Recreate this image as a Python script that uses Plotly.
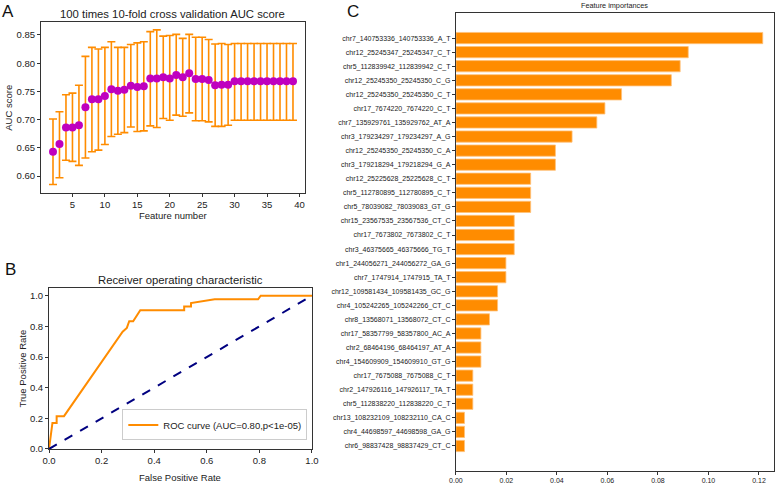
import plotly.graph_objects as go

# ---------------- Data ----------------
# Panel A: 100 times 10-fold CV AUC score
feature_numbers = list(range(2, 40))
auc_mean = [0.643, 0.657, 0.686, 0.686, 0.690, 0.722, 0.736, 0.736, 0.742, 0.754,
            0.751, 0.753, 0.760, 0.758, 0.759, 0.773, 0.773, 0.775, 0.773, 0.779,
            0.775, 0.782, 0.772, 0.772, 0.770, 0.761, 0.762, 0.762, 0.768, 0.768,
            0.768, 0.768, 0.768, 0.768, 0.768, 0.768, 0.768, 0.768]
auc_upper = [0.701, 0.714, 0.744, 0.747, 0.761, 0.812, 0.828, 0.825, 0.828, 0.838,
             0.828, 0.828, 0.833, 0.836, 0.838, 0.856, 0.859, 0.848, 0.849, 0.851,
             0.844, 0.851, 0.846, 0.846, 0.842, 0.834, 0.835, 0.833, 0.835, 0.835,
             0.835, 0.835, 0.835, 0.835, 0.835, 0.835, 0.835, 0.835]
auc_lower = [0.585, 0.597, 0.628, 0.626, 0.619, 0.632, 0.643, 0.646, 0.656, 0.670,
             0.674, 0.677, 0.687, 0.679, 0.680, 0.689, 0.686, 0.702, 0.699, 0.708,
             0.706, 0.712, 0.698, 0.698, 0.696, 0.688, 0.688, 0.690, 0.699, 0.699,
             0.699, 0.699, 0.699, 0.699, 0.699, 0.699, 0.699, 0.699]
a_xticks = [5, 10, 15, 20, 25, 30, 35, 40]
a_yticks = [0.60, 0.65, 0.70, 0.75, 0.80, 0.85]

# Panel B: ROC curve
fpr = [0.0, 0.005, 0.010, 0.013, 0.029, 0.029, 0.057, 0.280, 0.296, 0.305, 0.320,
       0.347, 0.514, 0.514, 0.540, 0.540, 0.630, 0.795, 0.805, 1.0]
tpr = [0.0, 0.060, 0.110, 0.170, 0.170, 0.214, 0.214, 0.765, 0.790, 0.833, 0.833,
       0.905, 0.905, 0.929, 0.929, 0.952, 0.976, 0.976, 1.0, 1.0]
diag = [0.0, 1.0]
b_ticks = [0.0, 0.2, 0.4, 0.6, 0.8, 1.0]
b_ticktext = ["0.0", "0.2", "0.4", "0.6", "0.8", "1.0"]

# Panel C: feature importances
features = [
    "chr7_140753336_140753336_A_T", "chr12_25245347_25245347_C_T",
    "chr5_112839942_112839942_C_T", "chr12_25245350_25245350_C_G",
    "chr12_25245350_25245350_C_T", "chr17_7674220_7674220_C_T",
    "chr7_135929761_135929762_AT_A", "chr3_179234297_179234297_A_G",
    "chr12_25245350_25245350_C_A", "chr3_179218294_179218294_G_A",
    "chr12_25225628_25225628_C_T", "chr5_112780895_112780895_C_T",
    "chr5_78039082_78039083_GT_G", "chr15_23567535_23567536_CT_C",
    "chr17_7673802_7673802_C_T", "chr3_46375665_46375666_TG_T",
    "chr1_244056271_244056272_GA_G", "chr7_1747914_1747915_TA_T",
    "chr12_109581434_109581435_GC_G", "chr4_105242265_105242266_CT_C",
    "chr8_13568071_13568072_CT_C", "chr17_58357799_58357800_AC_A",
    "chr2_68464196_68464197_AT_A", "chr4_154609909_154609910_GT_G",
    "chr17_7675088_7675088_C_T", "chr2_147926116_147926117_TA_T",
    "chr5_112838220_112838220_C_T", "chr13_108232109_108232110_CA_C",
    "chr4_44698597_44698598_GA_G", "chr6_98837428_98837429_CT_C",
]
importances = [0.1215, 0.0920, 0.0888, 0.0853, 0.0656, 0.0590, 0.0558, 0.0460,
               0.0394, 0.0394, 0.0296, 0.0296, 0.0296, 0.0231, 0.0231, 0.0231,
               0.0198, 0.0198, 0.0165, 0.0165, 0.0133, 0.0099, 0.0099, 0.0099,
               0.0067, 0.0067, 0.0067, 0.0034, 0.0034, 0.0034]
c_xticks = [0.0, 0.02, 0.04, 0.06, 0.08, 0.10, 0.12]
c_xticktext = ["0.00", "0.02", "0.04", "0.06", "0.08", "0.10", "0.12"]

# ---------------- Figure ----------------
FONT = "Liberation Sans, Arial, sans-serif"
ORANGE = "#FF8C00"

fig = go.Figure()

err_plus = [u - m for u, m in zip(auc_upper, auc_mean)]
err_minus = [m - l for m, l in zip(auc_mean, auc_lower)]

fig.add_trace(go.Scatter(
    x=feature_numbers, y=auc_mean, mode="markers",
    marker=dict(color="#BF00BF", size=8),
    error_y=dict(type="data", symmetric=False, array=err_plus, arrayminus=err_minus,
                 color=ORANGE, thickness=1.6, width=4),
    xaxis="x", yaxis="y", showlegend=False))

fig.add_trace(go.Scatter(
    x=fpr, y=tpr, mode="lines", line=dict(color=ORANGE, width=2),
    name="ROC curve (AUC=0.80,p<1e-05)", xaxis="x2", yaxis="y2", showlegend=True))
fig.add_trace(go.Scatter(
    x=diag, y=diag, mode="lines", line=dict(color="#000080", width=2, dash="dash"),
    xaxis="x2", yaxis="y2", showlegend=False))

fig.add_trace(go.Bar(
    x=importances, y=features, orientation="h",
    marker=dict(color=ORANGE, line=dict(color="#FFC27A", width=0.8)),
    width=0.8, xaxis="x3", yaxis="y3", showlegend=False))

axis_common = dict(showline=True, linecolor="#333", linewidth=1, mirror=True,
                   ticks="outside", ticklen=3, tickcolor="#333", showgrid=False,
                   zeroline=False, automargin=False, tickfont=dict(size=9.5, color="#222"))
small_axis = {**axis_common, "tickfont": dict(size=7, color="#222")}

fig.update_layout(
    width=778, height=483,
    margin=dict(l=0, r=0, t=0, b=0),
    paper_bgcolor="white", plot_bgcolor="white",
    font=dict(family=FONT, color="#222"),
    xaxis=dict(domain=[0.0527, 0.392], range=[0.15, 40.85], tickvals=a_xticks,
               anchor="y", **axis_common),
    yaxis=dict(domain=[0.6004, 0.9545], range=[0.570, 0.873],
               tickvals=a_yticks, tickformat=".2f", anchor="x", **axis_common),
    xaxis2=dict(domain=[0.063, 0.401], range=[0, 1], tickvals=b_ticks, ticktext=b_ticktext,
                tickmode="array", anchor="y2", **axis_common),
    yaxis2=dict(domain=[0.0704, 0.4037], range=[0, 1.05], tickvals=b_ticks, ticktext=b_ticktext,
                tickmode="array", anchor="x2", **axis_common),
    xaxis3=dict(domain=[0.586, 0.995], range=[0, 0.126], tickvals=c_xticks,
                ticktext=c_xticktext, tickmode="array", anchor="y3", **small_axis),
    yaxis3=dict(domain=[0.0248, 0.973], range=[30.78, -1.78], type="category",
                anchor="x3", **small_axis),
    legend=dict(x=0.395, y=0.088, xanchor="right", yanchor="bottom",
                bordercolor="#ccc", borderwidth=1, bgcolor="rgba(255,255,255,0.9)",
                font=dict(size=9.5, color="#222"), itemwidth=30,
                tracegroupgap=0),
    bargap=0.2,
)

annotations = [
    dict(text="A", x=0.0, y=0.999, xref="paper", yref="paper", xanchor="left", yanchor="top",
         showarrow=False, font=dict(size=17, color="#111")),
    dict(text="B", x=0.004, y=0.466, xref="paper", yref="paper", xanchor="left", yanchor="top",
         showarrow=False, font=dict(size=17, color="#111")),
    dict(text="C", x=0.443, y=0.999, xref="paper", yref="paper", xanchor="left", yanchor="top",
         showarrow=False, font=dict(size=17, color="#111")),
    dict(text="100 times 10-fold cross validation AUC score", x=0.222, y=0.971, xref="paper",
         yref="paper", xanchor="center", yanchor="middle", showarrow=False, font=dict(size=11.3)),
    dict(text="Feature number", x=0.222, y=0.554, xref="paper", yref="paper",
         xanchor="center", yanchor="middle", showarrow=False, font=dict(size=9.5)),
    dict(text="AUC score", x=0.0116, y=0.777, xref="paper", yref="paper", textangle=-90,
         xanchor="center", yanchor="middle", showarrow=False, font=dict(size=9.5)),
    dict(text="Receiver operating characteristic", x=0.232, y=0.420, xref="paper",
         yref="paper", xanchor="center", yanchor="middle", showarrow=False, font=dict(size=11.3)),
    dict(text="False Positive Rate", x=0.232, y=0.0104, xref="paper", yref="paper",
         xanchor="center", yanchor="middle", showarrow=False, font=dict(size=9.5)),
    dict(text="True Positive Rate", x=0.0296, y=0.237, xref="paper", yref="paper", textangle=-90,
         xanchor="center", yanchor="middle", showarrow=False, font=dict(size=9.5)),
    dict(text="Feature importances", x=0.79, y=0.988, xref="paper", yref="paper",
         xanchor="center", yanchor="middle", showarrow=False, font=dict(size=7.3)),
]
fig.update_layout(annotations=annotations)

fig.write_html(
    "out.html",
    config={"displayModeBar": False},
    post_script="document.body.style.margin='0';document.body.style.overflow='hidden';",
)
